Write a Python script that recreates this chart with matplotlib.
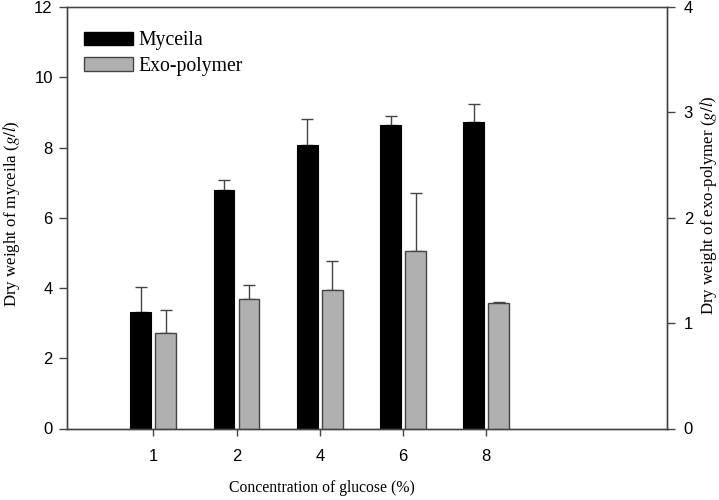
import numpy as np
import matplotlib
matplotlib.use("Agg")
import matplotlib.pyplot as plt
from matplotlib.patches import Patch

plt.rcParams['mathtext.fontset'] = 'stix'

glucose = ["1", "2", "4", "6", "8"]
mycelia = [3.32, 6.79, 8.06, 8.63, 8.72]
mycelia_err = [0.72, 0.28, 0.76, 0.27, 0.52]
exo = [0.908, 1.229, 1.317, 1.687, 1.188]
exo_err = [0.219, 0.130, 0.273, 0.551, 0.012]

spine_col = '#444444'
x = np.arange(len(glucose))
w = 0.25
off = 0.15

fig = plt.figure(figsize=(7.19, 5.0), dpi=100)
ax = fig.add_axes([0.0927, 0.143, 0.835, 0.843])
ax2 = ax.twinx()

ax.bar(x - off, mycelia, w, color='black', edgecolor='black', linewidth=0.8, zorder=2)
ax.errorbar(x - off, mycelia, yerr=[np.zeros(len(x)), mycelia_err], fmt='none',
            ecolor=spine_col, elinewidth=1, capsize=4.5, capthick=1, zorder=1)
ax2.bar(x + off, exo, w, color='#b0b0b0', edgecolor=spine_col, linewidth=1, zorder=2)
ax2.errorbar(x + off, exo, yerr=[np.zeros(len(x)), exo_err], fmt='none',
             ecolor=spine_col, elinewidth=1, capsize=4.5, capthick=1, zorder=1)

ax.set_xlim(-1.04, 6.17)
ax.set_ylim(0, 12)
ax2.set_ylim(0, 4)
ax.set_xticks(x)
ax.set_xticklabels(glucose)
ax.set_yticks(range(0, 13, 2))
ax2.set_yticks(range(0, 5))

for a in (ax, ax2):
    for s in a.spines.values():
        s.set_color(spine_col)
        s.set_linewidth(1)
    a.tick_params(colors='black', labelsize=12, width=1)
    for lab in a.get_xticklabels() + a.get_yticklabels():
        lab.set_family('Liberation Sans')
ax.spines['top'].set_color('#888888')
ax.tick_params(axis='y', length=6, color=spine_col, pad=4)
ax.tick_params(axis='x', length=5, color=spine_col, pad=10)
ax2.tick_params(axis='y', length=6, color=spine_col, pad=6)

serif = 'Liberation Serif'
ax.set_xlabel("Concentration of glucose (%)", family=serif, fontsize=11.3)
ax.xaxis.set_label_coords(0.425, -0.122)
ax.set_ylabel("Dry weight of myceila ($\\mathit{g/l}$)", family=serif, fontsize=12.2)
ax.yaxis.set_label_coords(-0.074, 0.51)
ax2.set_ylabel("Dry weight of exo-polymer ($\\mathit{g/l}$)", family=serif, fontsize=12.2)
ax2.yaxis.set_label_coords(1.052, 0.53)

handles = [Patch(facecolor='black', edgecolor='black'),
           Patch(facecolor='#b0b0b0', edgecolor=spine_col)]
leg = ax.legend(handles, ["Myceila", "Exo-polymer"], loc='upper left',
                bbox_to_anchor=(0.0, 0.985), frameon=False, handlelength=2.45,
                handleheight=0.65, handletextpad=0.3, labelspacing=0.35,
                prop={'family': serif, 'size': 14.2})

fig.savefig("out.png", dpi=100)
